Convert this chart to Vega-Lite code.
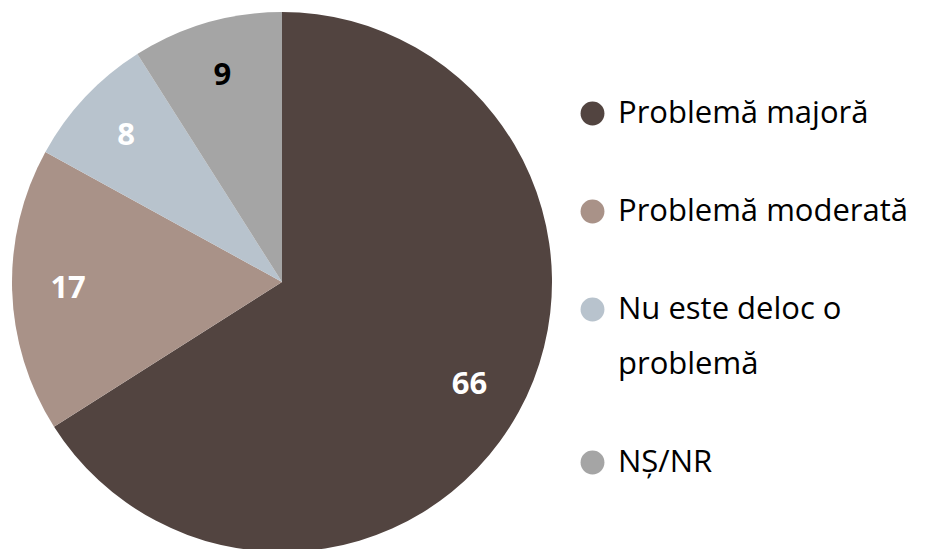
{
  "$schema": "https://vega.github.io/schema/vega-lite/v6.json",
  "width": 564,
  "height": 564,
  "padding": 0,
  "autosize": {"type": "pad"},
  "background": "white",
  "config": {"view": {"stroke": null}},
  "data": {"values": [
    {"cat": "Problemă majoră", "value": 66, "order": 1},
    {"cat": "Problemă moderată", "value": 17, "order": 2},
    {"cat": "Nu este deloc o problemă", "value": 8, "order": 3},
    {"cat": "NȘ/NR", "value": 9, "order": 4}
  ]},
  "encoding": {
    "theta": {"field": "value", "type": "quantitative", "stack": true},
    "order": {"field": "order", "type": "quantitative"}
  },
  "layer": [
    {
      "mark": {"type": "arc", "outerRadius": 270},
      "encoding": {
        "color": {
          "field": "cat",
          "type": "nominal",
          "scale": {
            "domain": ["Problemă majoră", "Problemă moderată", "Nu este deloc o problemă", "NȘ/NR"],
            "range": ["#524440", "#A99288", "#B8C3CD", "#A5A5A5"]
          },
          "legend": {
            "title": null,
            "orient": "none",
            "legendX": 577,
            "legendY": 98,
            "symbolType": "circle",
            "symbolSize": 570,
            "symbolStrokeWidth": 0,
            "labelFont": "Open Sans",
            "labelFontSize": 31,
            "labelColor": "#000000",
            "labelOffset": 10,
            "labelLimit": 400,
            "rowPadding": 66,
            "labelExpr": "datum.label == 'Nu este deloc o problemă' ? ['Nu este deloc o', 'problemă'] : datum.label",
            "encode": {"labels": {"update": {"lineHeight": {"value": 55}}}}
          }
        }
      }
    },
    {
      "mark": {"type": "text", "radius": 214, "font": "Open Sans", "fontSize": 31, "fontWeight": "bold"},
      "encoding": {
        "text": {"field": "value", "type": "quantitative"},
        "color": {
          "condition": {"test": "datum.cat == 'NȘ/NR'", "value": "#000000"},
          "value": "#FFFFFF"
        }
      }
    }
  ]
}
